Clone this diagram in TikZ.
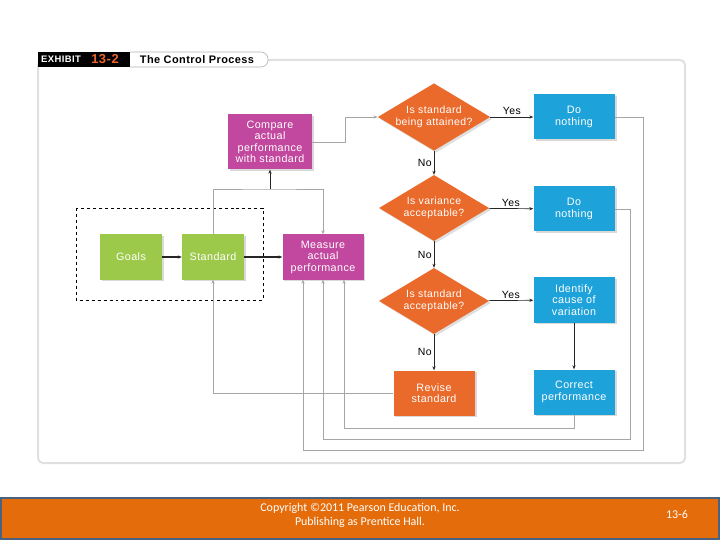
\documentclass[tikz,border=0pt]{standalone}
\usepackage{fontspec}
\setmainfont{Liberation Sans}[LetterSpace=4]
\newfontfamily\footfont{Carlito}
\usetikzlibrary{arrows.meta,positioning,shapes.geometric,shadows}
\definecolor{magbox}{HTML}{C2479E}
\definecolor{grnbox}{HTML}{9DC94B}
\definecolor{orgbox}{HTML}{EA6A2B}
\definecolor{bluebox}{HTML}{1EA2DA}
\definecolor{hdrorg}{HTML}{F0642A}
\definecolor{footorg}{HTML}{E46C0A}
\definecolor{footedge}{HTML}{4A6282}

\begin{document}
\begin{tikzpicture}[x=1bp,y=-1bp,>={Stealth[length=4pt,width=3.2pt]},
  box/.style={rectangle,fill=#1,text=white,align=center,inner sep=1pt,
    minimum width=81bp,minimum height=45bp,font=\fontsize{10.8}{11.5}\selectfont,
    drop shadow={opacity=0.3,shadow xshift=2pt,shadow yshift=-2pt}},
  decision/.style={diamond,fill=orgbox,text=white,align=center,inner sep=0pt,
    aspect=1.67,minimum width=110bp,minimum height=66bp,font=\fontsize{10.5}{11.5}\selectfont,
    drop shadow={opacity=0.25,shadow xshift=2pt,shadow yshift=-2pt}},
  flow/.style={draw=black!85,line width=0.7pt},
  fb/.style={draw=gray!70,line width=0.8pt},
  lab/.style={font=\fontsize{10.5}{12}\selectfont,inner sep=2pt}]
\useasboundingbox (0,0) rectangle (720,540);

% panel and exhibit header
\draw[black!12,line width=2bp,rounded corners=5bp] (38,60) rectangle (685,463);
\fill[black] (38,52) rectangle (130,67);
\draw[gray!60,fill=white,line width=0.6pt,rounded corners=7bp] (130,52) -- (268,52) -- (268,67) -- (130,67);
\node[text=white,font=\fontsize{9.5}{9}\bfseries] (exhibit) at (61,59.5) {EXHIBIT};
\node[text=hdrorg,font=\fontsize{13}{13}\bfseries] (exnum) at (105,59.5) {13-2};
\node[font=\fontsize{11}{11}\bfseries] (title) at (197,59.5) {The Control Process};

% boxes
\node[box=magbox,minimum width=84bp,minimum height=55bp] (compare) at (270,142) {Compare\\actual\\performance\\with standard};
\node[box=grnbox,minimum width=62bp] (goals) at (131,257) {Goals};
\node[box=grnbox,minimum width=62bp] (standard) at (213,257) {Standard};
\node[box=magbox] (measure) at (323,257) {Measure\\actual\\performance};
\node[decision] (attained) at (434,117) {Is standard\\being attained?};
\node[decision] (variance) at (434,208) {Is variance\\acceptable?};
\node[decision] (stdok) at (434,301) {Is standard\\acceptable?};
\node[box=bluebox] (nothingA) at (574,117) {Do\\nothing};
\node[box=bluebox] (nothingB) at (574,209) {Do\\nothing};
\node[box=bluebox] (identify) at (574,300) {Identify\\cause of\\variation};
\node[box=orgbox] (revise) at (434,393) {Revise\\standard};
\node[box=bluebox] (correct) at (574,392) {Correct\\performance};
\draw[dashed,line width=0.7pt] (76,208) rectangle (263,300);

% connectors
\draw[flow,->,line width=1.2pt] (goals) -- (standard);
\draw[flow,->,line width=1.2pt] (standard) -- (measure);
\coordinate (split) at (270,189);
\draw[fb,->] (standard.north) |- (split) -| (measure.north);
\draw[flow,->,line width=1pt] (split) -- (compare.south);
\draw[fb,->] (compare.east) -- ++(33,0) |- (attained.west);
\draw[flow,->] (attained) -- node[above,lab]{Yes} (nothingA);
\draw[flow,->] (attained) -- node[left,lab]{No} (variance);
\draw[flow,->] (variance) -- node[above,lab]{Yes} (nothingB);
\draw[flow,->] (variance) -- node[left,lab]{No} (stdok);
\draw[flow,->] (stdok) -- node[above,lab]{Yes} (identify);
\draw[flow,->] (stdok) -- node[left,lab]{No} (revise);
\draw[flow,->] (identify) -- (correct);
\draw[fb,->] (revise.west) -| (standard.south);

% feedback loops to measuring
\coordinate (loopA) at (643,450);
\coordinate (loopB) at (630,439);
\coordinate (loopC) at (574,428);
\draw[fb,->] (nothingA.east) -| (loopA) -| ([xshift=-20bp]measure.south);
\draw[fb,->] (nothingB.east) -| (loopB) -| (measure.south);
\draw[fb,->] (correct.south) -- (loopC) -| ([xshift=21bp]measure.south);

% footer
\fill[footorg] (0,497) rectangle (720,540);
\draw[footedge,line width=1.5bp] (1,498) rectangle (719,539);
\node[text=white,align=center,font=\footfont\fontsize{12}{14}\selectfont] (copyright) at (360,515.5) {Copyright ©2011 Pearson Education, Inc.\\Publishing as Prentice Hall.};
\node[text=white,font=\footfont\fontsize{12}{12}\selectfont] (slideno) at (677,515) {13-6};
\end{tikzpicture}
\end{document}
